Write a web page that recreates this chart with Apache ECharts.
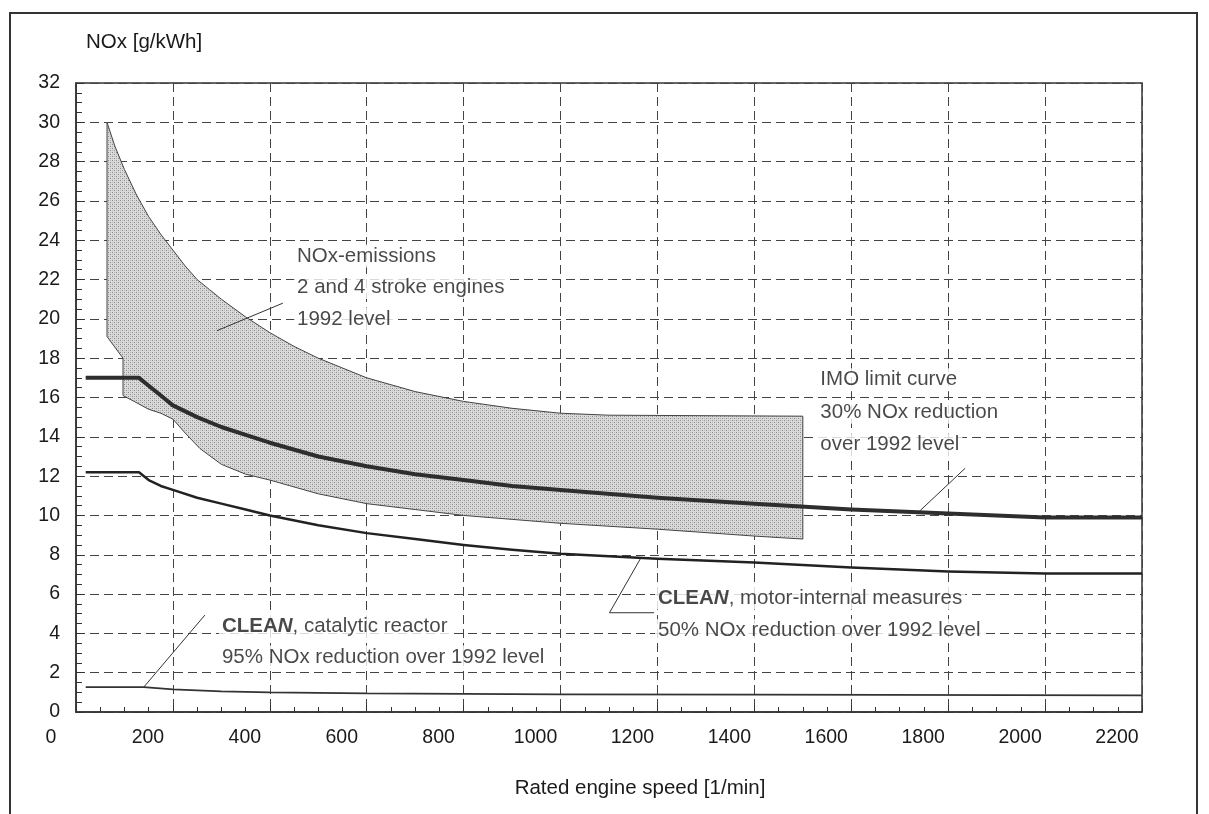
<!DOCTYPE html>
<html>
<head>
<meta charset="utf-8">
<script src="https://cdn.jsdelivr.net/npm/echarts@6/dist/echarts.min.js"></script>
<style>
  html, body { margin: 0; padding: 0; background: #fff; }
  #chart { width: 1209px; height: 814px; }
</style>
</head>
<body>
<div id="chart"></div>
<script>
// IMO limit curve (30% reduction)
const imoSpeed = [20, 130, 150, 175, 200, 250, 300, 350, 400, 500, 600, 700, 800, 900, 1000, 1200, 1400, 1600, 1800, 2000, 2200];
const imoNox = [17, 17, 16.6, 16.1, 15.6, 15.0, 14.5, 14.1, 13.7, 13.0, 12.5, 12.1, 11.8, 11.5, 11.3, 10.9, 10.6, 10.3, 10.1, 9.9, 9.9];

// CLEAN, motor-internal measures (50% reduction)
const motorSpeed = [20, 130, 150, 175, 200, 250, 300, 350, 400, 500, 600, 700, 800, 900, 1000, 1200, 1400, 1600, 1800, 2000, 2200];
const motorNox = [12.2, 12.2, 11.8, 11.5, 11.3, 10.9, 10.6, 10.3, 10.0, 9.5, 9.1, 8.8, 8.5, 8.25, 8.05, 7.8, 7.6, 7.35, 7.15, 7.05, 7.05];

// CLEAN, catalytic reactor (95% reduction)
const catSpeed = [20, 140, 200, 300, 400, 600, 1000, 1400, 2200];
const catNox = [1.27, 1.27, 1.15, 1.05, 1.0, 0.95, 0.9, 0.88, 0.85];

// 1992 emission band, upper edge left->right then lower edge right->left
const bandUpperSpeed = [64, 80, 100, 125, 150, 175, 200, 225, 250, 275, 300, 350, 400, 450, 500, 550, 600, 700, 800, 900, 1000, 1100, 1500];
const bandUpperNox = [30, 28.8, 27.6, 26.3, 25.2, 24.3, 23.5, 22.7, 22.0, 21.5, 21.0, 20.1, 19.3, 18.6, 18.0, 17.5, 17.0, 16.3, 15.8, 15.45, 15.2, 15.1, 15.05];
const bandLowerSpeed = [1500, 1400, 1200, 1000, 900, 800, 700, 600, 500, 400, 350, 300, 256, 225, 200, 175, 150, 120, 97, 97, 64, 64];
const bandLowerNox = [8.8, 8.95, 9.3, 9.6, 9.8, 10.0, 10.3, 10.6, 11.1, 11.8, 12.1, 12.6, 13.4, 14.2, 14.9, 15.2, 15.4, 15.8, 16.1, 18.0, 19.1, 30];

// leader lines
const noxLeaderSpeed = [291, 427];
const noxLeaderNox = [19.4, 20.8];
const imoLeaderSpeed = [1738, 1835];
const imoLeaderNox = [10.15, 12.4];
const motorLeaderSpeed = [1166, 1101, 1193];
const motorLeaderNox = [7.85, 5.05, 5.05];
const catLeaderSpeed = [140, 266];
const catLeaderNox = [1.27, 4.93];

// annotation texts
const noteSpeed = [450, 450, 450, 1530, 1530, 1530, 1195, 1195, 295, 295];
const noteNox = [23.2, 21.6, 20.0, 16.9, 15.25, 13.6, 5.8, 4.15, 4.35, 2.8];
const noteText = [
  'NOx-emissions',
  '2 and 4 stroke engines',
  '1992 level',
  'IMO limit curve',
  '30% NOx reduction',
  'over 1992 level',
  '{b|CLEA}{bi|N}, motor-internal measures',
  '50% NOx reduction over 1992 level',
  '{b|CLEA}{bi|N}, catalytic reactor',
  '95% NOx reduction over 1992 level'
];

const FONT = '"Liberation Sans", Arial, sans-serif';
const TEXT_COLOR = '#1a1a1a';

// stippled grey fill for the band
const dots = document.createElement('canvas');
dots.width = 4;
dots.height = 4;
const dctx = dots.getContext('2d');
dctx.fillStyle = '#dadada';
dctx.fillRect(0, 0, 4, 4);
dctx.fillStyle = '#8a8a8a';
dctx.fillRect(0, 0, 1, 1);
dctx.fillRect(2, 2, 1, 1);
dctx.fillStyle = '#b8b8b8';
dctx.fillRect(2, 0, 1, 1);
dctx.fillRect(0, 2, 1, 1);

function pairs(xs, ys) {
  return xs.map((x, i) => [x, ys[i]]);
}

function leader(name, xs, ys) {
  return {
    name: name,
    type: 'line',
    data: pairs(xs, ys),
    symbol: 'none',
    silent: true,
    z: 4,
    lineStyle: { color: '#333', width: 1 }
  };
}

const chart = echarts.init(document.getElementById('chart'));

const option = {
  backgroundColor: '#fff',
  animation: false,
  graphic: [
    {
      type: 'polyline',
      shape: { points: [[10, 814], [10, 13], [1197, 13], [1197, 814]] },
      style: { stroke: '#333', lineWidth: 2, fill: null },
      silent: true
    }
  ],
  grid: {
    left: 76,
    right: 67,
    top: 83,
    bottom: 102,
    show: true,
    borderColor: '#333',
    borderWidth: 1.5
  },
  xAxis: {
    type: 'value',
    min: 0,
    max: 2200,
    interval: 200,
    name: 'Rated engine speed [1/min]',
    nameLocation: 'middle',
    nameGap: 66,
    nameTextStyle: { fontFamily: FONT, fontSize: 20.5, color: TEXT_COLOR, padding: [0, 0, 0, 62] },
    axisLine: { show: true, lineStyle: { color: '#333', width: 1.5 } },
    axisTick: { show: true, inside: true, length: 7, lineStyle: { color: '#333' } },
    minorTick: { show: true, splitNumber: 4, length: 5, lineStyle: { color: '#333' } },
    axisLabel: {
      fontFamily: FONT,
      fontSize: 19.5,
      color: TEXT_COLOR,
      margin: 16,
      padding: [0, 50, 0, 0],
      formatter: function (v) { return String(v); }
    },
    splitLine: {
      show: true,
      lineStyle: { color: '#444', width: 1, type: [9, 5] }
    }
  },
  yAxis: {
    type: 'value',
    min: 0,
    max: 32,
    interval: 2,
    name: 'NOx [g/kWh]',
    nameLocation: 'end',
    nameGap: 30,
    nameTextStyle: { fontFamily: FONT, fontSize: 20.5, color: TEXT_COLOR, align: 'left', padding: [0, 0, 0, 10] },
    axisLine: { show: true, lineStyle: { color: '#333', width: 1.5 } },
    axisTick: { show: true, inside: true, length: 8, lineStyle: { color: '#333' } },
    minorTick: { show: true, splitNumber: 4, length: 6, lineStyle: { color: '#333' } },
    axisLabel: { fontFamily: FONT, fontSize: 19.5, color: TEXT_COLOR, margin: 16 },
    splitLine: {
      show: true,
      lineStyle: { color: '#444', width: 1, type: [9, 5] }
    }
  },
  series: [
    {
      name: 'NOx-emissions 1992',
      type: 'custom',
      data: [[0, 0]],
      z: 2,
      silent: true,
      renderItem: function (params, api) {
        const pts = [];
        bandUpperSpeed.forEach((s, i) => pts.push(api.coord([s, bandUpperNox[i]])));
        bandLowerSpeed.forEach((s, i) => pts.push(api.coord([s, bandLowerNox[i]])));
        return {
          type: 'polygon',
          shape: { points: pts },
          style: {
            fill: { image: dots, repeat: 'repeat' },
            stroke: '#444',
            lineWidth: 1
          }
        };
      }
    },
    {
      name: 'IMO limit curve',
      type: 'line',
      data: pairs(imoSpeed, imoNox),
      symbol: 'none',
      z: 5,
      lineStyle: { color: '#2e2e2e', width: 4, join: 'round' }
    },
    {
      name: 'CLEAN, motor-internal measures',
      type: 'line',
      data: pairs(motorSpeed, motorNox),
      symbol: 'none',
      z: 5,
      lineStyle: { color: '#222', width: 2.5, join: 'round' }
    },
    {
      name: 'CLEAN, catalytic reactor',
      type: 'line',
      data: pairs(catSpeed, catNox),
      symbol: 'none',
      z: 5,
      lineStyle: { color: '#333', width: 1.8 }
    },
    leader('nox leader', noxLeaderSpeed, noxLeaderNox),
    leader('imo leader', imoLeaderSpeed, imoLeaderNox),
    leader('motor leader', motorLeaderSpeed, motorLeaderNox),
    leader('cat leader', catLeaderSpeed, catLeaderNox),
    {
      name: 'notes',
      type: 'scatter',
      symbolSize: 0,
      silent: true,
      z: 6,
      data: noteSpeed.map((s, i) => ({
        value: [s, noteNox[i]],
        label: { formatter: noteText[i] }
      })),
      label: {
        show: true,
        position: 'right',
        distance: 0,
        align: 'left',
        verticalAlign: 'middle',
        fontFamily: FONT,
        fontSize: 20.5,
        color: TEXT_COLOR,
        backgroundColor: '#fff',
        padding: [1, 3],
        rich: {
          b: { fontFamily: FONT, fontSize: 20.5, fontWeight: 'bold', color: TEXT_COLOR },
          bi: { fontFamily: FONT, fontSize: 20.5, fontWeight: 'bold', fontStyle: 'italic', color: TEXT_COLOR }
        }
      }
    }
  ]
};

chart.setOption(option);
</script>
</body>
</html>
